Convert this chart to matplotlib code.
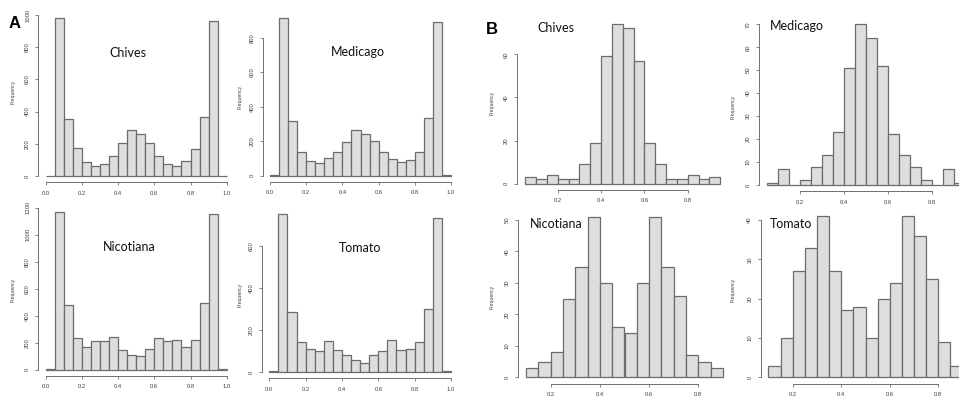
import matplotlib
matplotlib.use('Agg')
import matplotlib.pyplot as plt
import numpy as np

W, H = 959, 398

# --- panel A: all sites, bins of 0.05 over [0, 1] ---
edges_a = np.round(np.arange(0, 1.0001, 0.05), 2)
chives_a = [3, 979, 352, 172, 87, 62, 72, 126, 203, 284, 259, 203, 122, 72, 62, 93, 166, 364, 965, 2]
medicago_a = [5, 912, 317, 139, 87, 72, 100, 139, 193, 265, 240, 199, 135, 99, 77, 89, 135, 334, 893, 4]
nicotiana_a = [3, 1165, 477, 237, 165, 210, 215, 244, 146, 109, 99, 156, 232, 215, 217, 165, 222, 491, 1156, 3]
tomato_a = [5, 752, 286, 141, 110, 98, 148, 105, 79, 56, 43, 81, 100, 151, 105, 110, 143, 302, 735, 4]

# --- panel B: filtered sites ---
edges_b_top = np.round(np.arange(0.05, 0.9501, 0.05), 2)
edges_b_bot = np.round(np.arange(0.10, 0.9001, 0.05), 2)
chives_b = [3, 2, 4, 2, 2, 9, 19, 59, 74, 72, 57, 19, 9, 2, 2, 4, 2, 3]
medicago_b = [1, 7, 0, 2, 8, 13, 23, 51, 70, 64, 52, 22, 13, 8, 2, 0, 7, 1]
nicotiana_b = [3, 5, 8, 25, 35, 51, 30, 16, 14, 30, 51, 35, 26, 7, 5, 3]
tomato_b = [3, 10, 27, 33, 41, 27, 17, 18, 10, 20, 24, 41, 36, 25, 9, 3]

xticks_a = [0.0, 0.2, 0.4, 0.6, 0.8, 1.0]
xticks_b = [0.2, 0.4, 0.6, 0.8]

BAR_FACE = '#dedede'
BAR_EDGE = '#6c6c6c'
AXIS_COL = '#707070'
TEXT_COL = '#404040'

fig = plt.figure(figsize=(W / 100, H / 100), dpi=100)
fig.patch.set_facecolor('white')


def r_hist(edges, counts, yticks, xticks, xref, yref):
    """R-style histogram; xref/yref map two data values to pixel positions."""
    edges = np.asarray(edges)
    counts = np.asarray(counts)
    span = edges[-1] - edges[0]
    xlim = (edges[0] - 0.04 * span, edges[-1] + 0.04 * span)
    ymax = counts.max()
    ylim = (-0.04 * ymax, 1.04 * ymax)

    (xa, pxa), (xb, pxb) = xref
    sx = (pxb - pxa) / (xb - xa)
    left = pxa + (xlim[0] - xa) * sx
    right = pxa + (xlim[1] - xa) * sx
    (ya, pya), (yb, pyb) = yref
    sy = (pyb - pya) / (yb - ya)
    bot = pya + (ylim[0] - ya) * sy
    top = pya + (ylim[1] - ya) * sy

    ax = fig.add_axes([left / W, 1 - bot / H, (right - left) / W, (bot - top) / H])
    ax.patch.set_alpha(0)
    ax.bar(edges[:-1], counts, width=np.diff(edges), align='edge',
           color=BAR_FACE, edgecolor=BAR_EDGE, linewidth=0.9, clip_on=False)
    ax.set_xlim(xlim)
    ax.set_ylim(ylim)

    for s in ('top', 'right'):
        ax.spines[s].set_visible(False)
    for s in ('left', 'bottom'):
        ax.spines[s].set_color(AXIS_COL)
        ax.spines[s].set_linewidth(0.7)
    ax.spines['left'].set_bounds(yticks[0], yticks[-1])
    ax.spines['bottom'].set_bounds(xticks[0], xticks[-1])

    ax.set_xticks(xticks)
    ax.set_xticklabels([f'{t:.1f}' for t in xticks])
    ax.set_yticks(yticks)
    ax.set_yticklabels([str(t) for t in yticks], rotation=90, va='center')
    ax.tick_params(axis='both', length=2.5, width=0.6, color=AXIS_COL,
                   labelsize=4.2, labelcolor=TEXT_COL, pad=3.5)
    for lab in ax.get_xticklabels() + ax.get_yticklabels():
        lab.set_family('Liberation Sans')
    return ax


def freq_label(x, y):
    fig.text(x / W, 1 - y / H, 'Frequency', rotation=90, ha='center', va='center',
             fontsize=3.6, color=TEXT_COL, family='Liberation Sans')


def title(x, y, s, ha='center'):
    fig.text(x / W, 1 - y / H, s, ha=ha, va='center', fontsize=9,
             color='#111111', family='Lato')


# panel A
r_hist(edges_a, chives_a, [0, 200, 400, 600, 800, 1000], xticks_a,
       ((0, 45.7), (1, 226.7)), ((0, 176.0), (1000, 15.0)))
r_hist(edges_a, medicago_a, [0, 200, 400, 600, 800], xticks_a,
       ((0, 270.0), (1, 451.0)), ((0, 175.7), (800, 37.7)))
r_hist(edges_a, nicotiana_a, [0, 200, 400, 600, 800, 1000, 1200], xticks_a,
       ((0, 45.7), (1, 226.7)), ((0, 369.7), (1200, 207.7)))
r_hist(edges_a, tomato_a, [0, 200, 400, 600], xticks_a,
       ((0, 269.3), (1, 451.0)), ((0, 372.0), (600, 246.0)))

# panel B
r_hist(edges_b_top, chives_b, [0, 20, 40, 60], xticks_b,
       ((0.2, 557.7), (0.8, 687.7)), ((0, 183.7), (60, 54.3)))
r_hist(edges_b_top, medicago_b, [0, 10, 20, 30, 40, 50, 60, 70], xticks_b,
       ((0.2, 800.0), (0.8, 931.7)), ((0, 185.0), (70, 24.3)))
r_hist(edges_b_bot, nicotiana_b, [0, 10, 20, 30, 40, 50], xticks_b,
       ((0.2, 550.7), (0.8, 698.3)), ((0, 377.3), (50, 220.0)))
r_hist(edges_b_bot, tomato_b, [0, 10, 20, 30, 40], xticks_b,
       ((0.2, 792.7), (0.8, 938.3)), ((0, 377.3), (40, 220.0)))

# axis labels
for x, y in [(13, 92), (240, 97), (13, 290), (240, 295),
             (492, 103), (733, 107), (492, 297), (733, 290)]:
    freq_label(x, y)

# species names
title(128, 53, 'Chives')
title(358, 52, 'Medicago')
title(129, 247, 'Nicotiana')
title(360, 248, 'Tomato')
title(537, 28, 'Chives', ha='left')
title(770, 26, 'Medicago', ha='left')
title(530, 224, 'Nicotiana', ha='left')
title(770, 224, 'Tomato', ha='left')

# panel letters
fig.text(15 / W, 1 - 23 / H, 'A', ha='center', va='center', fontsize=12,
         fontweight='bold', family='Liberation Sans')
fig.text(492 / W, 1 - 29 / H, 'B', ha='center', va='center', fontsize=12,
         fontweight='bold', family='Liberation Sans')

fig.savefig('out.png', dpi=100)
